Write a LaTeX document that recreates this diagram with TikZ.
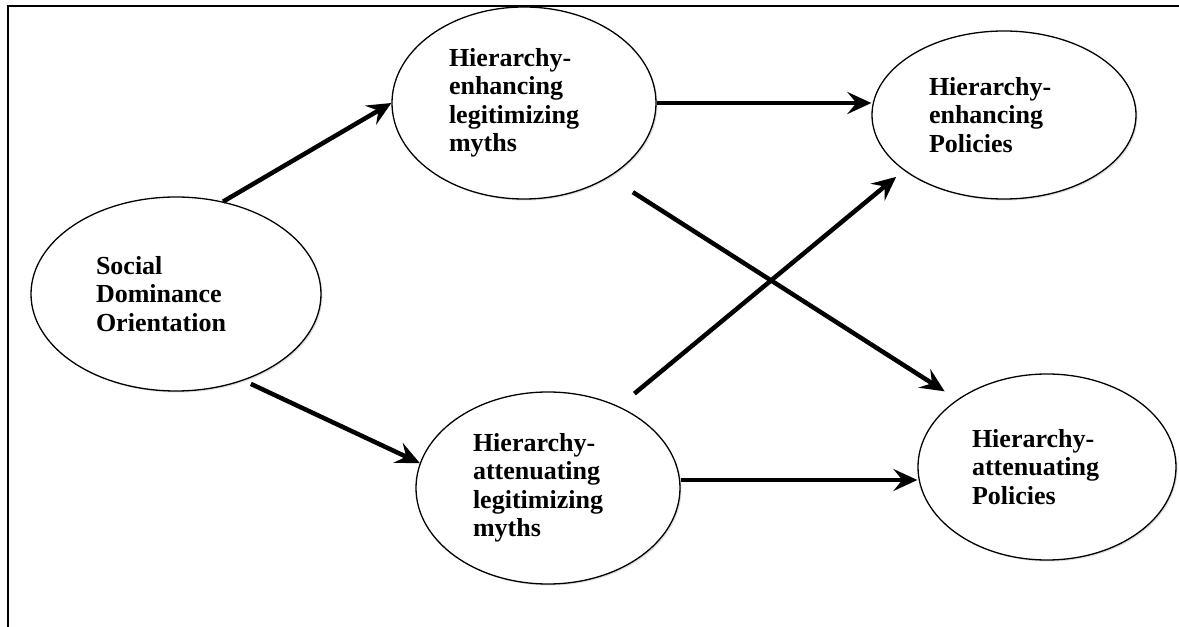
\documentclass[tikz,border=0pt]{standalone}
\usepackage{fontspec}
\setmainfont{Liberation Serif}
\usetikzlibrary{positioning, shadows, shapes.geometric, arrows.meta}

\begin{document}
\begin{tikzpicture}[x=1pt,y=1pt,
  oval/.style={ellipse, draw=drawColor, line width=1.3pt, fill=fillColor, inner sep=0pt,
    text=drawColor, text width=150pt, align=left, font=\bfseries\fontsize{26}{28.5}\selectfont,
    drop shadow={opacity=0.25, shadow xshift=1.5pt, shadow yshift=-1.5pt}},
  link/.style={draw=drawColor, line width=4.5pt, -{Stealth[length=24pt,width=22pt,inset=9pt]}}]
\definecolor{fillColor}{RGB}{255,255,255}
\definecolor{drawColor}{RGB}{0,0,0}
\path[use as bounding box,fill=fillColor] (0,0) rectangle (1179,627);

% frame
\path[draw=drawColor,line width=2.5pt] (8,0) -- (8,621) -- (1179,621);

% ellipses
\node[oval, text width=160pt, minimum width=290pt, minimum height=194pt] (sdo) at (176,333) {Social\\Dominance\\Orientation};

\node[oval, minimum width=264pt, minimum height=192pt] (hem) at (524,524) {Hierarchy-\\enhancing\\legitimizing\\myths};

\node[oval, minimum width=264pt, minimum height=192pt] (ham) at (548,139) {Hierarchy-\\attenuating\\legitimizing\\myths};

\node[oval, minimum width=264pt, minimum height=168pt] (hep) at (1004,512) {Hierarchy-\\enhancing\\Policies};

\node[oval, minimum width=258pt, minimum height=186pt] (hap) at (1047,160) {Hierarchy-\\attenuating\\Policies};

% arrows
\path[link] (sdo.63) -- (hem.west);

\path[link, shorten <=8pt] (sdo.-52) -- (ham.169);

\path[link] (hem.east) -- (hem.east -| hep.west);

\path[link, shorten <=28pt, shorten >=15pt] (hem.-41.6) -- (hap.143.5);

\path[link, shorten <=20pt, shorten >=10pt] (ham.49.4) -- (hep.209.6);

\path[link] ([yshift=8pt]ham.east) -- ([yshift=8pt]ham.east -| hap.west);
\end{tikzpicture}
\end{document}
